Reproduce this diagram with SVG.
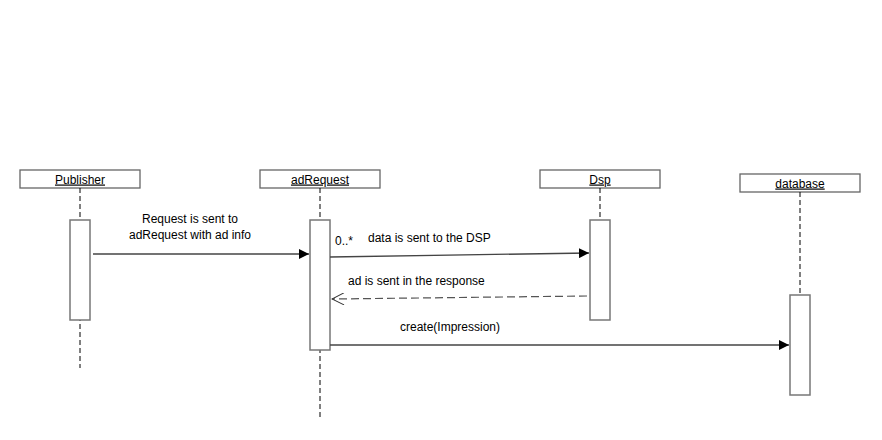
<svg xmlns="http://www.w3.org/2000/svg" width="882" height="440" viewBox="0 0 882 440">
<style>
.head{fill:#fff;stroke:#666;stroke-width:1.3}
.act{fill:#fff;stroke:#777;stroke-width:1.5}
.life{stroke:#000;stroke-width:1;stroke-dasharray:5,3;fill:none}
.msg{stroke:#444;stroke-width:1.3;fill:none}
.ret{stroke:#555;stroke-width:1.2;fill:none;stroke-dasharray:8,4}
text{font-family:"Liberation Sans",Arial,sans-serif;font-size:12px;fill:#000}
.name{text-decoration:underline;text-anchor:middle}
</style>
<defs>
<marker id="filled" markerWidth="10" markerHeight="10" refX="10" refY="5" orient="auto" markerUnits="userSpaceOnUse">
<path d="M0,0 L10,5 L0,10 Z" fill="#000"/>
</marker>
<marker id="open" markerWidth="14" markerHeight="12" refX="13" refY="6" orient="auto" markerUnits="userSpaceOnUse">
<path d="M1,0 L13,6 L1,12" fill="none" stroke="#333" stroke-width="1"/>
</marker>
</defs>
<rect width="882" height="440" fill="#fff"/>
<g id="publisher">
<rect class="head" x="20" y="170" width="120" height="18"/>
<text class="name" x="80" y="183.5">Publisher</text>
<line class="life" x1="80" y1="188" x2="80" y2="368"/>
<rect class="act" x="70" y="220" width="20" height="100"/>
</g>
<g id="adRequest">
<rect class="head" x="260" y="170" width="120" height="18"/>
<text class="name" x="320" y="183.5">adRequest</text>
<line class="life" x1="320" y1="188" x2="320" y2="420"/>
<rect class="act" x="310" y="220" width="20" height="130"/>
</g>
<g id="dsp">
<rect class="head" x="540" y="170" width="120" height="18"/>
<text class="name" x="600" y="183.5">Dsp</text>
<line class="life" x1="600" y1="188" x2="600" y2="220"/>
<rect class="act" x="590" y="220" width="20" height="100"/>
</g>
<g id="database">
<rect class="head" x="740" y="174" width="120" height="18"/>
<text class="name" x="800" y="187.5">database</text>
<line class="life" x1="800" y1="192" x2="800" y2="295"/>
<rect class="act" x="790" y="295" width="20" height="100"/>
</g>
<g id="connectors">
<line class="msg" x1="93" y1="254" x2="309" y2="254" marker-end="url(#filled)"/>
<text x="190" y="223" text-anchor="middle">Request is sent to</text>
<text x="190" y="239" text-anchor="middle">adRequest with ad info</text>
<line class="msg" x1="330" y1="257" x2="589" y2="253" marker-end="url(#filled)"/>
<text x="335" y="245">0..*</text>
<text x="368" y="242">data is sent to the DSP</text>
<line class="ret" x1="587" y1="296" x2="332" y2="299" marker-end="url(#open)"/>
<text x="348" y="285">ad is sent in the response</text>
<line class="msg" x1="330" y1="345" x2="789" y2="345" marker-end="url(#filled)"/>
<text x="400" y="331">create(Impression)</text>
</g>
</svg>
